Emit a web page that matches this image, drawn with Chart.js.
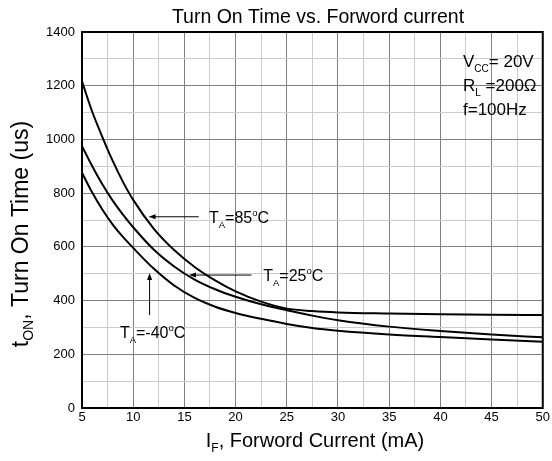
<!DOCTYPE html>
<html>
<head>
<meta charset="utf-8">
<script src="https://cdn.jsdelivr.net/npm/chart.js@4.4.1/dist/chart.umd.min.js"></script>
<style>
  html, body { margin: 0; padding: 0; background: #fff; }
  #chart { display: block; }
</style>
</head>
<body>
<canvas id="chart" width="552" height="461"></canvas>
<script>
// forward current (mA) and turn-on time (us)
const current = [5, 6, 7, 8, 9, 10, 12, 14, 16, 18, 20, 22.5, 25, 27.5, 30, 35, 40, 45, 50];
const ton85 = [1216, 1103, 1008, 920, 842, 775, 668, 588, 525, 475, 434, 396, 370, 361, 356, 352, 349, 347, 346];
const ton25 = [975, 900, 832, 772, 720, 673, 590, 527, 478, 442, 414, 386, 364, 344, 327, 303, 287, 274, 263];
const tonM40 = [876, 802, 738, 683, 637, 596, 519, 456, 410, 377, 354, 332, 313, 298, 288, 274, 264, 255, 247];

const xTickLabels = [5, 10, 15, 20, 25, 30, 35, 40, 45, 50];
const yTickLabels = [0, 200, 400, 600, 800, 1000, 1200, 1400];

const FONT = '"Liberation Sans", Arial, sans-serif';

// draw a run of text pieces [text, size, dy] from x on baseline y
function drawParts(ctx, parts, x, y, align) {
  let w = 0;
  parts.forEach(p => { ctx.font = p[1] + 'px ' + FONT; w += ctx.measureText(p[0]).width; });
  let cx = align === 'center' ? x - w / 2 : x;
  parts.forEach(p => {
    ctx.font = p[1] + 'px ' + FONT;
    ctx.fillText(p[0], cx, y + (p[2] || 0));
    cx += ctx.measureText(p[0]).width;
  });
  return w;
}

function arrow(ctx, x1, y1, x2, y2) {
  const a = Math.atan2(y2 - y1, x2 - x1);
  ctx.beginPath();
  ctx.moveTo(x1, y1);
  ctx.lineTo(x2 - 5 * Math.cos(a), y2 - 5 * Math.sin(a));
  ctx.lineWidth = 1;
  ctx.strokeStyle = '#000';
  ctx.stroke();
  ctx.beginPath();
  ctx.moveTo(x2, y2);
  ctx.lineTo(x2 - 7 * Math.cos(a) + 2.5 * Math.sin(a), y2 - 7 * Math.sin(a) - 2.5 * Math.cos(a));
  ctx.lineTo(x2 - 7 * Math.cos(a) - 2.5 * Math.sin(a), y2 - 7 * Math.sin(a) + 2.5 * Math.cos(a));
  ctx.closePath();
  ctx.fillStyle = '#000';
  ctx.fill();
}

// curve labels, placed in data units (mA, us)
const labels = [
  { name: '85', x: 17.4, y: 712, from: [16.4, 712], to: [11.5, 712] },
  { name: '25', x: 22.7, y: 495, from: [21.55, 495], to: [15.45, 495] },
  { name: '-40', x: 8.7, y: 284, from: [11.6, 346], to: [11.6, 503] }
];

const decorate = {
  id: 'decorate',
  afterDraw(chart) {
    const ctx = chart.ctx;
    const a = chart.chartArea;
    const xs = chart.scales.x, ys = chart.scales.y;
    ctx.save();

    // frame
    ctx.strokeStyle = '#000';
    ctx.lineWidth = 2;
    ctx.strokeRect(a.left, a.top, a.right - a.left, a.bottom - a.top);

    ctx.fillStyle = '#000';
    ctx.textBaseline = 'alphabetic';

    // title
    drawParts(ctx, [['Turn On Time vs. Forword current', 19.5]], 318, 23, 'center');

    // x axis title
    drawParts(ctx, [['I', 20], ['F', 12, 5], [', Forword Current (mA)', 20]], 315, 447, 'center');

    // y axis title
    ctx.save();
    ctx.translate(28, 234);
    ctx.rotate(-Math.PI / 2);
    drawParts(ctx, [['t', 23], ['ON', 14, 5], [', Turn On Time (us)', 23]], 0, 0, 'center');
    ctx.restore();

    // test conditions
    drawParts(ctx, [['V', 17], ['CC', 10, 5], ['= 20V', 17]], 463, 67);
    drawParts(ctx, [['R', 17], ['L', 10, 5], [' =200\u03A9', 17]], 463, 91);
    drawParts(ctx, [['f=100Hz', 17]], 463, 115);

    // curve labels with arrows
    labels.forEach(l => {
      const px = xs.getPixelForValue(l.x);
      const py = ys.getPixelForValue(l.y);
      drawParts(ctx, [['T', 16], ['A', 9.5, 5], ['=' + l.name, 16], ['o', 9.5, -7], ['C', 16]], px, py + 6);
      arrow(ctx, xs.getPixelForValue(l.from[0]), ys.getPixelForValue(l.from[1]),
        xs.getPixelForValue(l.to[0]), ys.getPixelForValue(l.to[1]));
    });

    ctx.restore();
  }
};

function series(values) {
  return {
    data: current.map((c, i) => ({ x: c, y: values[i] })),
    borderColor: '#000',
    borderWidth: 2,
    pointRadius: 0,
    fill: false,
    cubicInterpolationMode: 'monotone'
  };
}

new Chart(document.getElementById('chart'), {
  type: 'line',
  data: { datasets: [series(ton85), series(ton25), series(tonM40)] },
  options: {
    responsive: false,
    animation: false,
    layout: { padding: { top: 32, right: 5, left: 0, bottom: 0 } },
    plugins: { legend: { display: false }, tooltip: { enabled: false }, title: { display: false } },
    scales: {
      x: {
        type: 'linear',
        min: 5,
        max: 50,
        afterFit: s => { s.height = 53; },
        border: { color: '#000', width: 2 },
        grid: {
          drawTicks: false,
          lineWidth: 1,
          color: c => (c.tick && c.tick.value % 5 === 0) ? '#808080' : '#cccccc'
        },
        ticks: {
          stepSize: 2.5,
          autoSkip: false,
          maxRotation: 0,
          padding: 2,
          color: '#000',
          font: { family: FONT, size: 13 },
          callback: v => xTickLabels.includes(v) ? String(v) : ''
        }
      },
      y: {
        min: 0,
        max: 1400,
        afterFit: s => { s.width = 82; },
        border: { color: '#000', width: 2 },
        grid: {
          drawTicks: false,
          lineWidth: 1,
          color: c => (c.tick && c.tick.value % 200 === 0) ? '#808080' : '#cccccc'
        },
        ticks: {
          stepSize: 100,
          autoSkip: false,
          padding: 7,
          color: '#000',
          font: { family: FONT, size: 13 },
          callback: v => yTickLabels.includes(v) ? String(v) : ''
        }
      }
    }
  },
  plugins: [decorate]
});
</script>
</body>
</html>
